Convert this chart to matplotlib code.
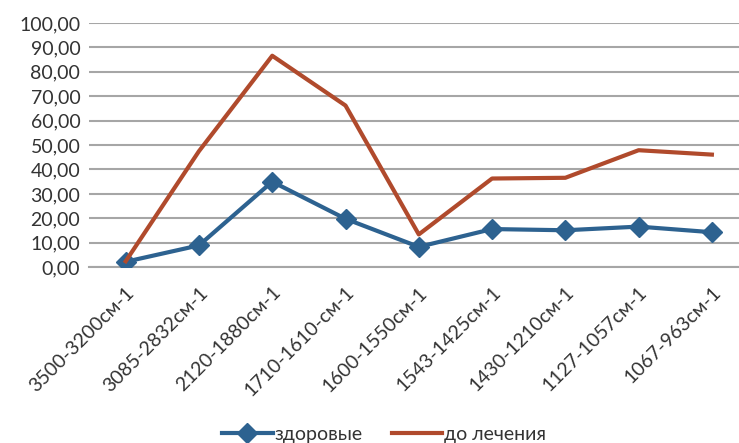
import matplotlib
matplotlib.use('Agg')
import matplotlib.pyplot as plt
from matplotlib.ticker import FuncFormatter

plt.rcParams['font.family'] = ['Lato', 'Open Sans', 'DejaVu Sans']

categories = ['3500-3200см-1', '3085-2832см-1', '2120-1880см-1', '1710-1610-см-1',
              '1600-1550см-1', '1543-1425см-1', '1430-1210см-1', '1127-1057см-1',
              '1067-963см-1']
healthy = [2.2, 8.9, 35.0, 19.8, 8.3, 15.6, 15.1, 16.6, 14.3]
before = [2.4, 47.5, 86.6, 66.2, 13.4, 36.3, 36.6, 47.9, 46.1]

fig = plt.figure(figsize=(7.39, 4.43), dpi=100)
ax = fig.add_axes([0.12, 0.397, 0.88, 0.551])

x = list(range(len(categories)))
ax.plot(x, healthy, color='#2D6290', lw=3, marker='D', ms=10, label='здоровые', zorder=3)
ax.plot(x, before, color='#B04A2C', lw=3, label='до лечения', zorder=3)

ax.set_ylim(0, 100)
ax.set_yticks(range(0, 101, 10))
ax.yaxis.set_major_formatter(FuncFormatter(lambda v, p: f'{v:.2f}'.replace('.', ',')))
ax.set_xlim(-0.505, 8.37)
ax.set_xticks(x)
ax.set_xticklabels(categories, rotation=45, ha='right', rotation_mode='anchor')

ax.grid(axis='y', color='#a6a6a6', lw=1.5)
ax.set_axisbelow(True)
for s in ['top', 'right', 'left']:
    ax.spines[s].set_visible(False)
ax.spines['bottom'].set_color('#a6a6a6')
ax.spines['bottom'].set_linewidth(1.5)
ax.tick_params(length=0, labelsize=14, colors='#333333')
ax.tick_params(axis='y', pad=6)
ax.tick_params(axis='x', pad=12)

fig.legend(loc='lower center', bbox_to_anchor=(0.52, -0.04), ncol=2, frameon=False,
           fontsize=14, handlelength=2.6, handletextpad=0.1, columnspacing=1.5,
           labelcolor='#333333')

fig.savefig('out.png', dpi=100)
